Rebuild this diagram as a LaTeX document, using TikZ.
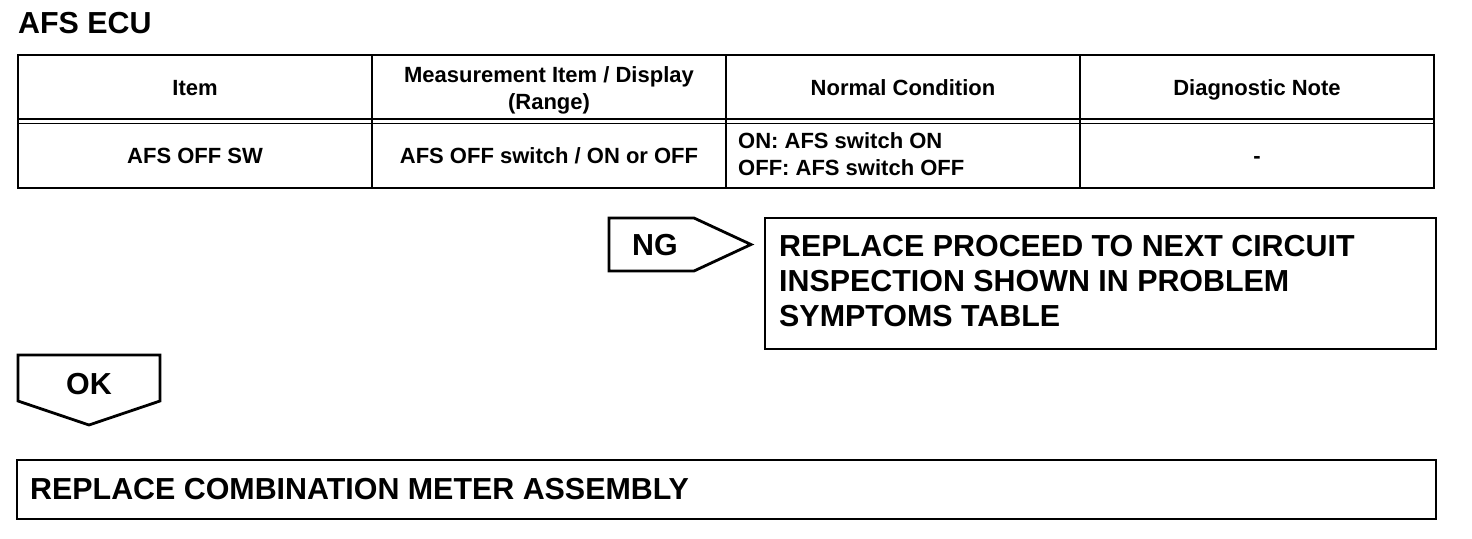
\documentclass[tikz,border=0pt]{standalone}
\usepackage{fontspec}
\setmainfont{Liberation Sans}
\begin{document}
\begin{tikzpicture}[x=1pt,y=-1pt,
  tline/.style={line width=1.6pt},
  bline/.style={line width=2.8pt, line join=miter},
  big/.style={font=\fontsize{30.4}{35}\selectfont\bfseries, inner sep=0pt},
  small/.style={font=\fontsize{22}{27}\selectfont\bfseries, inner sep=0pt}]
\useasboundingbox (0,0) rectangle (1472,538);
% title
\node[big, anchor=base west] (title) at (18,33) {AFS ECU};
% table frame
\draw[tline] (18,55) rectangle (1434,188);
\draw[tline] (372,55) -- (372,188);
\draw[tline] (726,55) -- (726,188);
\draw[tline] (1080,55) -- (1080,188);
\draw[tline] (18,119) -- (1434,119);
\draw[tline] (18,123.5) -- (1434,123.5);
% header
\node[small, anchor=base] (h1) at (195,95) {Item};
\node[small, anchor=base] (h2a) at (549,82) {Measurement Item / Display};
\node[small, anchor=base] (h2b) at (549,109) {(Range)};
\node[small, anchor=base] (h3) at (903,95) {Normal Condition};
\node[small, anchor=base] (h4) at (1257,95) {Diagnostic Note};
% row
\node[small, anchor=base] (r1) at (195,163) {AFS OFF SW};
\node[small, anchor=base] (r2) at (549,163) {AFS OFF switch / ON or OFF};
\node[small, anchor=base west] (r3a) at (738,148) {ON: AFS switch ON};
\node[small, anchor=base west] (r3b) at (738,175) {OFF: AFS switch OFF};
\node[small, anchor=base] (r4) at (1257,163) {-};
% NG arrow
\draw[bline] (609,218) -- (694,218) -- (751,244.5) -- (694,271) -- (609,271) -- cycle;
\node[big, anchor=base west] (ng) at (632,255) {NG};
% NG box
\draw[bline] (765,218) rectangle (1436,349);
\node[big, anchor=base west] (ngt1) at (779,256) {REPLACE PROCEED TO NEXT CIRCUIT};
\node[big, anchor=base west] (ngt2) at (779,291) {INSPECTION SHOWN IN PROBLEM};
\node[big, anchor=base west] (ngt3) at (779,326) {SYMPTOMS TABLE};
% OK arrow
\draw[bline] (18,355) -- (160,355) -- (160,401) -- (89,425) -- (18,401) -- cycle;
\node[big, anchor=base] (ok) at (89,394) {OK};
% OK box
\draw[bline] (17,460) rectangle (1436,519);
\node[big, anchor=base west] (okt) at (30,499) {REPLACE COMBINATION METER ASSEMBLY};
\end{tikzpicture}
\end{document}
